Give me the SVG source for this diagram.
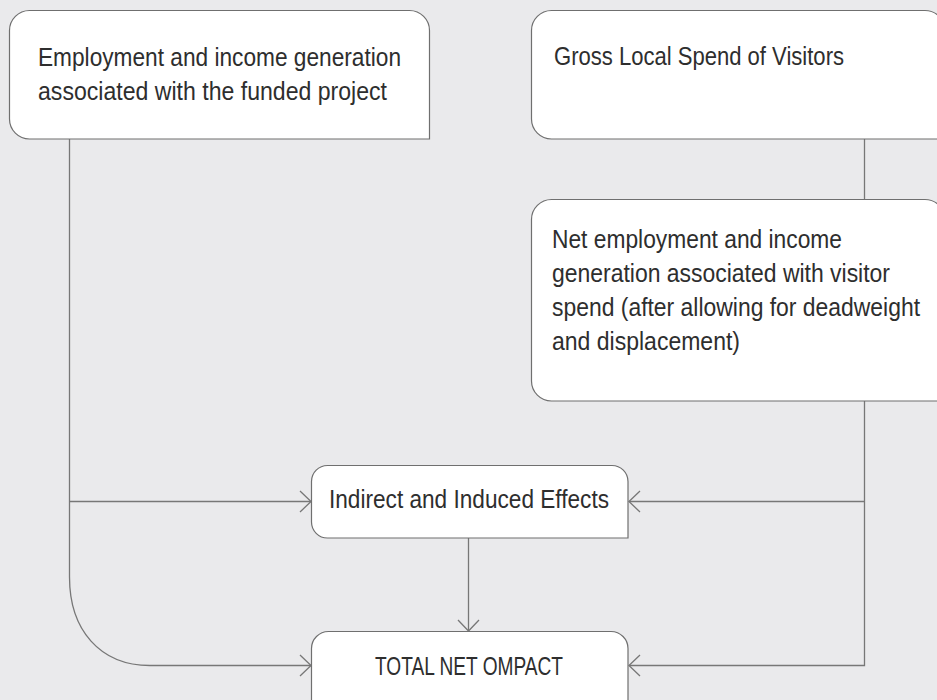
<svg xmlns="http://www.w3.org/2000/svg" width="937" height="700" viewBox="0 0 937 700">
<defs>
<style>
.box{fill:#ffffff;stroke:#6f6f6f;stroke-width:1.2}
.con{fill:none;stroke:#777777;stroke-width:1.3}
.t{font-family:"Liberation Sans","Arial",sans-serif;font-size:25px;fill:#2e2e2e}
.c{text-anchor:middle}
</style>
<marker id="arr" viewBox="-13 -12 15 24" refX="0" refY="0" markerWidth="15" markerHeight="24" markerUnits="userSpaceOnUse" orient="auto" overflow="visible">
<path d="M-11,-10.5 L0,0 L-11,10.5" fill="none" stroke="#777777" stroke-width="1.3"/>
</marker>
</defs>
<rect width="937" height="700" fill="#eaeaec"/>
<g id="connectors">
<path class="con" d="M69.5,139 V577 C69.5,630 100,665.5 150,665.5 H311" marker-end="url(#arr)"/>
<path class="con" d="M69.5,501.5 H311" marker-end="url(#arr)"/>
<path class="con" d="M864.5,139 V199.5"/>
<path class="con" d="M864.5,401 V665.5 H629" marker-end="url(#arr)"/>
<path class="con" d="M864.5,501.5 H629" marker-end="url(#arr)"/>
<path class="con" d="M468.5,538 V631" marker-end="url(#arr)"/>
</g>
<g id="node-project">
<path class="box" d="M29.5,10.5 H409.5 A20,20 0 0 1 429.5,30.5 V139 H29.5 A20,20 0 0 1 9.5,119 V30.5 A20,20 0 0 1 29.5,10.5 Z"/>
<text class="t" x="38" y="66" textLength="363" lengthAdjust="spacingAndGlyphs">Employment and income generation</text>
<text class="t" x="38" y="100" textLength="349" lengthAdjust="spacingAndGlyphs">associated with the funded project</text>
</g>
<g id="node-gross">
<path class="box" d="M551.5,10.5 H925 A20,20 0 0 1 945,30.5 V139 H551.5 A20,20 0 0 1 531.5,119 V30.5 A20,20 0 0 1 551.5,10.5 Z"/>
<text class="t" x="554" y="65" textLength="290" lengthAdjust="spacingAndGlyphs">Gross Local Spend of Visitors</text>
</g>
<g id="node-net">
<path class="box" d="M551.5,199.5 H925 A20,20 0 0 1 945,219.5 V401 H551.5 A20,20 0 0 1 531.5,381 V219.5 A20,20 0 0 1 551.5,199.5 Z"/>
<text class="t" x="552" y="248" textLength="290" lengthAdjust="spacingAndGlyphs">Net employment and income</text>
<text class="t" x="552" y="282" textLength="338" lengthAdjust="spacingAndGlyphs">generation associated with visitor</text>
<text class="t" x="552" y="316" textLength="368" lengthAdjust="spacingAndGlyphs">spend (after allowing for deadweight</text>
<text class="t" x="552" y="350" textLength="188" lengthAdjust="spacingAndGlyphs">and displacement)</text>
</g>
<g id="node-indirect">
<path class="box" d="M327.5,465.5 H612 A16,16 0 0 1 628,481.5 V538 H327.5 A16,16 0 0 1 311.5,522 V481.5 A16,16 0 0 1 327.5,465.5 Z"/>
<text class="t c" x="469" y="508" textLength="280" lengthAdjust="spacingAndGlyphs">Indirect and Induced Effects</text>
</g>
<g id="node-total">
<path class="box" d="M328.5,631.5 H611 A17,17 0 0 1 628,648.5 V720 H328.5 A17,17 0 0 1 311.5,703 V648.5 A17,17 0 0 1 328.5,631.5 Z"/>
<text class="t c" x="469" y="675" style="font-size:26px" textLength="188" lengthAdjust="spacingAndGlyphs">TOTAL NET OMPACT</text>
</g>
</svg>
